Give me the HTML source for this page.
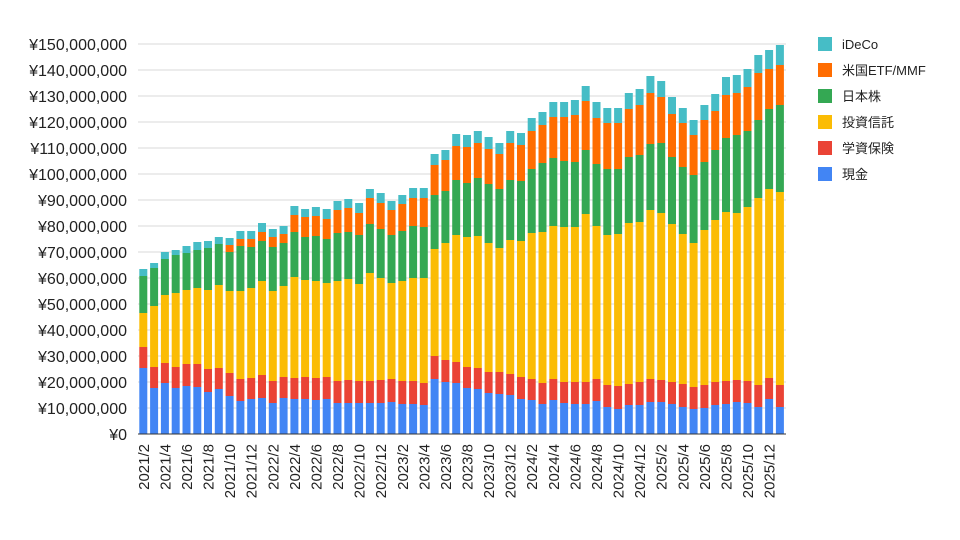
<!DOCTYPE html>
<html><head><meta charset="utf-8"><style>body{margin:0;background:#fff}svg{display:block}</style></head>
<body>
<svg id="c" width="960" height="540" xmlns="http://www.w3.org/2000/svg" font-family="Liberation Sans, Noto Sans CJK JP, sans-serif"></svg>
<script>
const d=[
[368,347,313,276,276,269],[388,367,306,268,268,263],[383,363,295,259,259,252],[388,367,293,255,255,250],[386,364,290,253,253,246],
[387,364,288,250,250,242],[392,369,290,248,248,241],[389,368,285,244,244,237],[396,373,291,252,245,238],[401,379,291,246,239,231],
[399,378,288,247,239,231],[398,375,281,241,232,223],[403,381,291,247,237,229],[398,377,286,243,234,226],[399,378,277,232,215,206],
[399,377,280,237,217,209],[400,378,281,236,216,207],[399,377,283,239,219,209],[403,381,281,233,210,201],[403,380,279,232,208,199],
[403,381,284,235,213,203],[403,381,273,224,198,189],[403,380,278,229,203,193],[402,379,283,235,210,201],[404,381,281,231,204,195],
[404,381,278,226,198,188],[405,383,278,227,198,188],[379,356,249,195,165,154],[382,360,243,191,160,150],[383,362,235,180,146,134],
[388,367,237,183,147,135],[389,368,236,178,143,131],[393,372,243,184,149,137],[394,372,248,189,154,143],[395,374,240,180,143,131],
[399,377,241,181,145,133],[400,379,233,169,131,118],[404,383,232,163,125,112],[400,379,226,158,117,102],[403,382,227,161,117,102],
[404,382,227,162,115,100],[404,382,214,150,101,86],[401,379,226,164,118,102],[407,385,235,169,123,108],[409,386,234,169,123,108],
[405,384,223,157,109,93],[405,382,222,155,105,89],[402,379,210,144,93,76],[402,380,213,143,97,81],[404,382,224,157,114,97],
[407,384,234,167,123,108],[409,387,243,175,135,120],[408,385,230,162,120,105],[405,382,220,150,111,94],[404,381,212,138,95,77],
[402,380,213,135,93,75],[403,381,207,131,87,69],[407,385,198,120,73,55],[399,378,189,109,69,50],[407,385,192,105,65,45]];
const col=['#4285f4','#ea4335','#fbbc04','#34a853','#ff6d01','#46bdc6'];
let s='';
for(let i=0;i<=15;i++){const y=434-26*i;s+=`<line x1="138" x2="786" y1="${y}" y2="${y}" stroke="#d9d9d9" stroke-width="1"/>`;
s+=`<text x="127" y="${y+6}" font-size="16" text-anchor="end" fill="#222">¥${i?(i*10).toString()+',000,000':'0'}</text>`;}
d.forEach((b,i)=>{const x=143.3+10.79*i-4;let prev=434;
b.forEach((t,k)=>{if(t<prev){s+=`<rect x="${x.toFixed(1)}" y="${t}" width="8" height="${prev-t}" fill="${col[k]}"/>`;prev=t;}});
if(i%2==0){const m=(1+i)%12+1,yr=2021+Math.floor((1+i)/12);s+=`<text transform="translate(${(x+9.5).toFixed(1)},444) rotate(-90)" font-size="15" text-anchor="end" fill="#222">${yr}/${m}</text>`;}
});
s+=`<line x1="138" x2="786" y1="434" y2="434" stroke="#333" stroke-width="1"/>`;
const L=['iDeCo','米国ETF/MMF','日本株','投資信託','学資保険','現金'];
L.forEach((n,j)=>{const y=44+26*j;s+=`<rect x="818" y="${y-7}" width="14" height="14" fill="${col[5-j]}"/><text x="842" y="${y+5}" font-size="13" fill="#222">${n}</text>`;});
document.getElementById('c').innerHTML=s;
</script>
</body></html>
